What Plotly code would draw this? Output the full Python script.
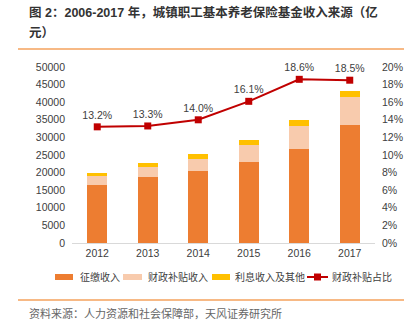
import plotly.graph_objects as go

# 城镇职工基本养老保险基金收入来源（亿元）
years = ["2012", "2013", "2014", "2015", "2016", "2017"]
contribution = [16467, 18634, 20434, 23016, 26768, 33403]   # 征缴收入
subsidy = [2648, 3019, 3548, 4716, 6511, 8004]              # 财政补贴收入
interest_other = [886, 1027, 1328, 1609, 1779, 1903]        # 利息收入及其他
subsidy_share = [13.2, 13.3, 14.0, 16.1, 18.6, 18.5]        # 财政补贴占比（%）

series_names = ["征缴收入", "财政补贴收入", "利息收入及其他", "财政补贴占比"]
title_lines = ["图 2：2006-2017 年，城镇职工基本养老保险基金收入来源（亿", "元）"]
source_text = "资料来源：人力资源和社会保障部，天风证券研究所"

C_ORANGE = "#ED7D31"
C_PINK = "#F8CBAD"
C_YELLOW = "#FFC000"
C_RED = "#C00000"
C_RULE = "#F5A25D"
FONT = "Liberation Sans, Arial, Noto Sans CJK SC, sans-serif"
TXT = "#404040"

W, H = 419, 327
L, R, T, B = 72, 44, 67, 84
PW, PH = W - L - R, H - T - B


def px(x):
    return (x - L) / PW


def py(y):
    return (H - B - y) / PH


fig = go.Figure()
for vals, col, name in [(contribution, C_ORANGE, series_names[0]),
                        (subsidy, C_PINK, series_names[1]),
                        (interest_other, C_YELLOW, series_names[2])]:
    fig.add_trace(go.Bar(x=years, y=vals, name=name, width=0.4,
                         marker=dict(color=col, line=dict(width=0)),
                         showlegend=False))

fig.add_trace(go.Scatter(
    x=years, y=[v / 100 for v in subsidy_share], yaxis="y2",
    name=series_names[3], mode="lines+markers+text",
    line=dict(color=C_RED, width=2),
    marker=dict(symbol="square", size=7, color=C_RED),
    text=[f"{v:.1f}%" for v in subsidy_share], textposition="top center",
    textfont=dict(size=10.5, color=TXT, family=FONT),
    showlegend=False, cliponaxis=False))

shapes = []
annotations = []

# title (two lines) and the orange rules
for line, yy in zip(title_lines, (12, 33)):
    annotations.append(dict(text="<b>" + line + "</b>", xref="paper", yref="paper",
                            x=px(27), y=py(yy), xanchor="left", yanchor="middle",
                            showarrow=False,
                            font=dict(size=12.5, color="#333333", family=FONT)))
for yy in (49, 300):
    shapes.append(dict(type="line", xref="paper", yref="paper", x0=px(18), x1=px(404),
                       y0=py(yy), y1=py(yy), line=dict(color=C_RULE, width=1.5)))
annotations.append(dict(text=source_text, xref="paper", yref="paper", x=px(27), y=py(313),
                        xanchor="left", yanchor="middle", showarrow=False,
                        font=dict(size=11, color="#666666", family=FONT)))

# legend row
ly = 277
legend_items = [(55, 73, 78, C_ORANGE), (123, 142, 146, C_PINK), (212, 230, 233, C_YELLOW)]
for (x0, x1, tx, col), name in zip(legend_items, series_names[:3]):
    shapes.append(dict(type="rect", xref="paper", yref="paper", x0=px(x0), x1=px(x1),
                       y0=py(ly + 3), y1=py(ly - 3), fillcolor=col, line=dict(width=0)))
    annotations.append(dict(text=name, xref="paper", yref="paper", x=px(tx), y=py(ly),
                            xanchor="left", yanchor="middle", showarrow=False,
                            font=dict(size=10, color=TXT, family=FONT)))
shapes.append(dict(type="line", xref="paper", yref="paper", x0=px(307), x1=px(328),
                   y0=py(ly), y1=py(ly), line=dict(color=C_RED, width=2)))
shapes.append(dict(type="rect", xref="paper", yref="paper", x0=px(314), x1=px(321),
                   y0=py(ly + 3.5), y1=py(ly - 3.5), fillcolor=C_RED, line=dict(width=0)))
annotations.append(dict(text=series_names[3], xref="paper", yref="paper", x=px(330), y=py(ly),
                        xanchor="left", yanchor="middle", showarrow=False,
                        font=dict(size=10, color=TXT, family=FONT)))

fig.update_layout(
    width=W, height=H, margin=dict(l=L, r=R, t=T, b=B),
    paper_bgcolor="white", plot_bgcolor="white",
    barmode="stack", bargap=0.6,
    font=dict(family=FONT, size=10.5, color=TXT),
    xaxis=dict(type="category", showgrid=False, showline=True, linecolor="#D9D9D9",
               linewidth=1, ticks="", tickfont=dict(size=10.5, color=TXT)),
    yaxis=dict(range=[0, 50000], dtick=5000, tickformat="d", showgrid=False,
               zeroline=False, showline=False, ticks="",
               tickfont=dict(size=10.5, color=TXT), ticklabelstandoff=6),
    yaxis2=dict(range=[0, 0.2], dtick=0.02, tickformat=".0%", overlaying="y",
                side="right", showgrid=False, zeroline=False, showline=False, ticks="",
                tickfont=dict(size=10.5, color=TXT), ticklabelstandoff=6),
    shapes=shapes, annotations=annotations, showlegend=False,
)

fig.write_html("out.html")
